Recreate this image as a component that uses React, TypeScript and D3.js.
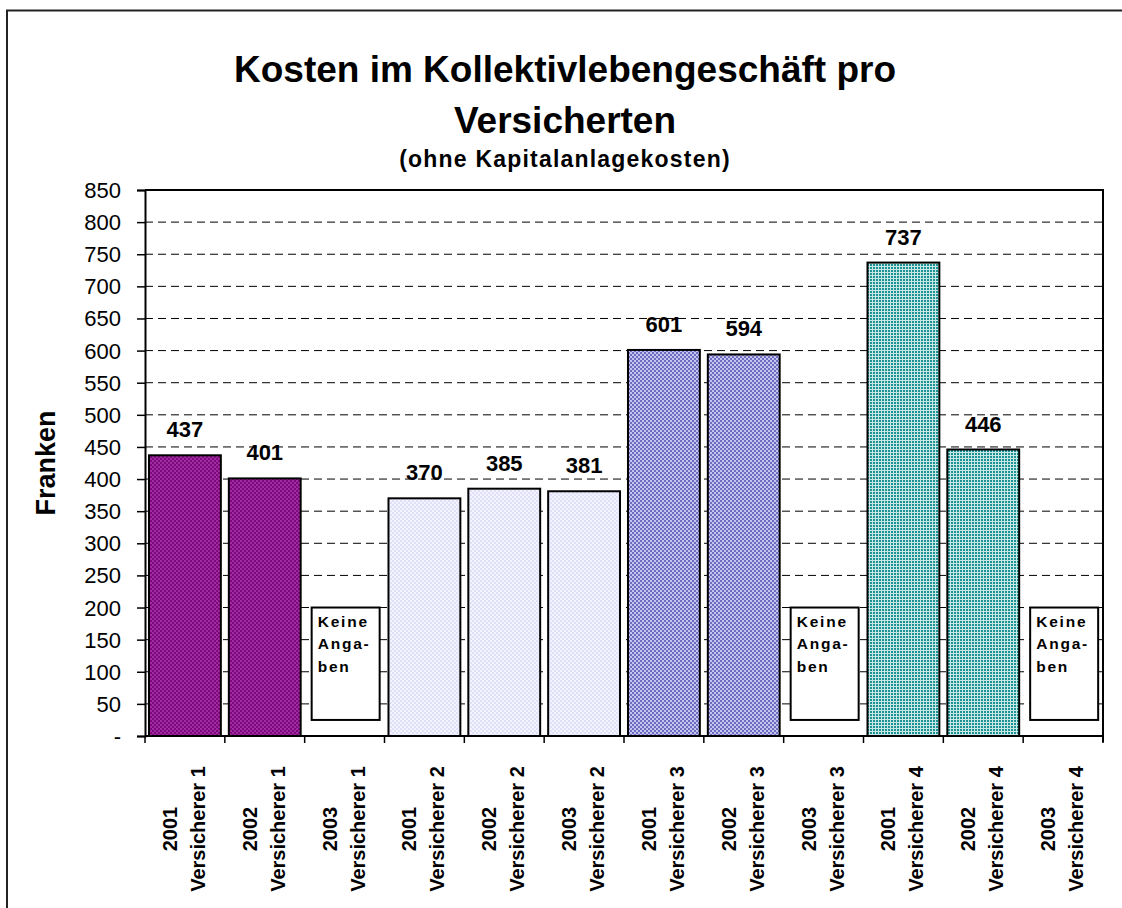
import * as d3 from "d3";
import { useEffect, useRef } from "react";

const years = ["2001", "2002", "2003", "2001", "2002", "2003", "2001", "2002", "2003", "2001", "2002", "2003"];
const insurers = [
  "Versicherer 1", "Versicherer 1", "Versicherer 1",
  "Versicherer 2", "Versicherer 2", "Versicherer 2",
  "Versicherer 3", "Versicherer 3", "Versicherer 3",
  "Versicherer 4", "Versicherer 4", "Versicherer 4",
];
const values: (number | null)[] = [437, 401, null, 370, 385, 381, 601, 594, null, 737, 446, null];
const yTicks = [0, 50, 100, 150, 200, 250, 300, 350, 400, 450, 500, 550, 600, 650, 700, 750, 800, 850];
const noDataLines = ["Keine", "Anga-", "ben"];
const noDataTop = 200;
const noDataBottom = 25;

const patternIds = ["pPurple", "pLavender", "pBlue", "pTeal"];

const W = 1122;
const H = 908;
const left = 145;
const right = 1103;
const top = 190;
const bottom = 736;
const font = "Liberation Sans, Arial, sans-serif";

export default function App() {
  const ref = useRef<SVGSVGElement>(null);

  useEffect(() => {
    document.body.style.margin = "0";
    document.body.style.overflow = "hidden";
    const svg = d3.select(ref.current);
    svg.selectAll("*").remove();

    const defs = svg.append("defs");
    // purple
    const p1 = defs.append("pattern").attr("id", "pPurple").attr("width", 4).attr("height", 4).attr("patternUnits", "userSpaceOnUse");
    p1.append("rect").attr("width", 4).attr("height", 4).attr("fill", "#7d0a7d");
    p1.append("rect").attr("width", 2).attr("height", 2).attr("fill", "#a12ca1");
    p1.append("rect").attr("x", 2).attr("y", 2).attr("width", 2).attr("height", 2).attr("fill", "#a12ca1");
    // lavender
    const p2 = defs.append("pattern").attr("id", "pLavender").attr("width", 4).attr("height", 4).attr("patternUnits", "userSpaceOnUse");
    p2.append("rect").attr("width", 4).attr("height", 4).attr("fill", "#f4f4ff");
    p2.append("rect").attr("width", 2).attr("height", 2).attr("fill", "#e0e0fa");
    p2.append("rect").attr("x", 2).attr("y", 2).attr("width", 2).attr("height", 2).attr("fill", "#e0e0fa");
    // blue purple
    const p3 = defs.append("pattern").attr("id", "pBlue").attr("width", 4).attr("height", 4).attr("patternUnits", "userSpaceOnUse");
    p3.append("rect").attr("width", 4).attr("height", 4).attr("fill", "#c4c4ee");
    p3.append("rect").attr("width", 2).attr("height", 2).attr("fill", "#6c6cc0");
    p3.append("rect").attr("x", 2).attr("y", 2).attr("width", 2).attr("height", 2).attr("fill", "#6c6cc0");
    // teal
    const p4 = defs.append("pattern").attr("id", "pTeal").attr("width", 3).attr("height", 3).attr("patternUnits", "userSpaceOnUse");
    p4.append("rect").attr("width", 3).attr("height", 3).attr("fill", "#c8e8e8");
    p4.append("rect").attr("width", 2).attr("height", 2).attr("fill", "#1e9292");

    // outer frame (only left and top show)
    svg.append("path").attr("d", `M7,${H}V10.5H${W}`)
      .attr("fill", "none").attr("stroke", "#222").attr("stroke-width", 2);

    const x = d3.scaleBand<number>().domain(d3.range(values.length)).range([left, right])
      .paddingInner(0.1).paddingOuter(0.05);
    const step = x.step();
    const y = d3.scaleLinear().domain([0, 850]).range([bottom, top]);

    // gridlines
    svg.append("g").selectAll("line").data(yTicks.filter((t) => t > 0 && t < 850)).join("line")
      .attr("x1", left).attr("x2", right).attr("y1", (d) => y(d)).attr("y2", (d) => y(d))
      .attr("stroke", "#000").attr("stroke-width", 1).attr("stroke-dasharray", "8,5");

    // plot border top / right
    svg.append("path").attr("d", `M${left},${top}H${right}V${bottom + 6}`)
      .attr("fill", "none").attr("stroke", "#000").attr("stroke-width", 2);

    // y axis
    const yAxis = d3.axisLeft(y).tickValues(yTicks).tickSize(8)
      .tickFormat((d) => (d === 0 ? "-" : String(d)));
    const gy = svg.append("g").attr("transform", `translate(${left},0)`).call(yAxis);
    gy.select(".domain").attr("stroke-width", 2);
    gy.selectAll(".tick line").attr("stroke-width", 1.5);
    gy.selectAll("text").attr("font-family", font).attr("font-size", 22).attr("fill", "#000")
      .attr("x", -24).attr("dy", "0.34em");

    // x axis line + ticks at boundaries
    svg.append("line").attr("x1", left).attr("x2", right).attr("y1", bottom).attr("y2", bottom)
      .attr("stroke", "#000").attr("stroke-width", 2);
    svg.append("g").selectAll("line").data(d3.range(values.length + 1)).join("line")
      .attr("x1", (i) => left + i * step).attr("x2", (i) => left + i * step)
      .attr("y1", bottom).attr("y2", bottom + 7).attr("stroke", "#000").attr("stroke-width", 1.5);

    // bars
    const bars = values.map((v, i) => ({ v, i }));
    svg.append("g").selectAll("rect").data(bars.filter((d) => d.v !== null)).join("rect")
      .attr("x", (d) => x(d.i)!).attr("width", x.bandwidth())
      .attr("y", (d) => y(d.v as number)).attr("height", (d) => bottom - y(d.v as number))
      .attr("fill", (d) => `url(#${patternIds[Math.floor(d.i / 3)]})`)
      .attr("stroke", "#000").attr("stroke-width", 2);

    // value labels
    svg.append("g").selectAll("text").data(bars.filter((d) => d.v !== null)).join("text")
      .attr("x", (d) => x(d.i)! + x.bandwidth() / 2).attr("y", (d) => y(d.v as number) - 18)
      .attr("text-anchor", "middle").attr("font-family", font).attr("font-weight", "bold")
      .attr("font-size", 22).text((d) => String(d.v));

    // no data boxes
    const nd = svg.append("g").selectAll("g").data(bars.filter((d) => d.v === null)).join("g");
    nd.append("rect").attr("x", (d) => x(d.i)! + 3).attr("width", 68)
      .attr("y", y(noDataTop)).attr("height", y(noDataBottom) - y(noDataTop))
      .attr("fill", "#fff").attr("stroke", "#000").attr("stroke-width", 2);
    noDataLines.forEach((line, k) => {
      nd.append("text").attr("x", (d) => x(d.i)! + 9).attr("y", y(noDataTop) + 19 + k * 22.5)
        .attr("font-family", font).attr("font-weight", "bold").attr("font-size", 15.5)
        .attr("letter-spacing", 1.8).text(line);
    });

    // x labels
    const xl = svg.append("g").selectAll("g").data(bars).join("g")
      .attr("transform", (d) => `translate(${x(d.i)! + x.bandwidth() / 2},829) rotate(-90)`);
    xl.append("text").attr("x", 0).attr("y", -8).attr("text-anchor", "middle")
      .attr("font-family", font).attr("font-weight", "bold").attr("font-size", 20)
      .text((d) => years[d.i]);
    xl.append("text").attr("x", 0).attr("y", 20).attr("text-anchor", "middle")
      .attr("font-family", font).attr("font-weight", "bold").attr("font-size", 20)
      .text((d) => insurers[d.i]);

    // y title
    svg.append("text").attr("transform", `translate(55,463) rotate(-90)`).attr("text-anchor", "middle")
      .attr("font-family", font).attr("font-weight", "bold").attr("font-size", 27).text("Franken");

    // titles
    const t = svg.append("g").attr("font-family", font).attr("font-weight", "bold").attr("text-anchor", "middle");
    t.append("text").attr("x", 565).attr("y", 82).attr("font-size", 37).text("Kosten im Kollektivlebengeschäft pro");
    t.append("text").attr("x", 565).attr("y", 133).attr("font-size", 37).text("Versicherten");
    t.append("text").attr("x", 565).attr("y", 167).attr("font-size", 23).attr("letter-spacing", 1.2)
      .text("(ohne Kapitalanlagekosten)");
  }, []);

  return <svg ref={ref} width={W} height={H} style={{ display: "block", background: "#fff" }} />;
}
